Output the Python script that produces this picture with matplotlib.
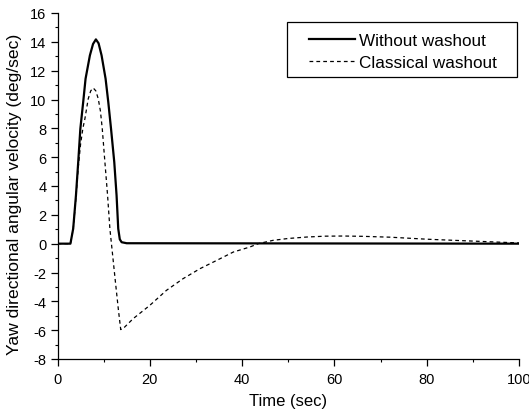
import matplotlib
matplotlib.use("Agg")
import matplotlib.pyplot as plt
from matplotlib.ticker import MultipleLocator
from matplotlib.patches import Rectangle

plt.rcParams['font.family'] = ['Liberation Sans', 'DejaVu Sans']
plt.rcParams['axes.unicode_minus'] = False

# Without washout (solid)
solid_t = [0, 2.8, 3.4, 4.0, 4.49, 4.95, 5.57, 6.08, 7.02, 7.7, 8.32, 8.9, 9.55,
           10.42, 11.0, 11.6, 12.3, 12.8, 13.16, 13.5, 13.9, 15.0, 100]
solid_v = [0, 0, 1.04, 3.35, 5.66, 7.97, 9.83, 11.44, 13.06, 13.85, 14.17, 13.9, 13.06,
           11.44, 9.83, 7.97, 5.66, 3.35, 1.04, 0.3, 0.1, 0.03, 0]

# Classical washout (dashed)
dash_t = [0, 2.8, 3.4, 4.0, 4.5, 5.0, 5.5, 5.94, 6.66, 7.2, 7.74, 8.3, 8.83, 9.3, 9.7,
          10.27, 10.85, 11.35, 11.72, 12.5, 13.2, 13.7, 14.5, 16.4, 20, 23.6, 27.2,
          30.9, 34.5, 38.1, 41.7, 43.5, 46.7, 50, 54, 58, 62, 66, 72, 80, 86, 91.5, 96, 100]
dash_v = [0, 0, 1.0, 3.2, 5.3, 6.9, 8.0, 8.67, 10.05, 10.6, 10.8, 10.6, 10.05, 9.2, 7.97,
          5.66, 3.35, 1.04, -0.1, -2.5, -4.6, -5.96, -5.8, -5.2, -4.28, -3.24, -2.43,
          -1.73, -1.16, -0.58, -0.23, 0.0, 0.23, 0.36, 0.46, 0.52, 0.53, 0.51, 0.45, 0.31,
          0.23, 0.16, 0.1, 0.05]

x_ticks = [0, 20, 40, 60, 80, 100]
y_ticks = [-8, -6, -4, -2, 0, 2, 4, 6, 8, 10, 12, 14, 16]

W, H = 529, 414
fig = plt.figure(figsize=(W/100, H/100), dpi=100)
ax = fig.add_axes([57.5/W, 1-360/H, (519-57.5)/W, (360-14)/H])

ax.plot(dash_t, dash_v, color='black', lw=0.9, ls=(0, (3, 2.5)), label='Classical washout', zorder=2)
ax.plot(solid_t, solid_v, color='black', lw=1.6, label='Without washout', zorder=3)

ax.set_xlim(0, 100)
ax.set_ylim(-8, 16)
ax.set_xticks(x_ticks)
ax.set_yticks(y_ticks)
ax.xaxis.set_minor_locator(MultipleLocator(10))
ax.yaxis.set_minor_locator(MultipleLocator(1))
ax.tick_params(which='major', direction='out', length=5, width=0.9, labelsize=10.5, pad=3)
ax.tick_params(axis='x', which='major', pad=4.5)
ax.tick_params(which='minor', direction='out', length=2.5, width=0.8)
ax.spines['top'].set_visible(False)
ax.spines['right'].set_visible(False)
for s in ('left', 'bottom'):
    ax.spines[s].set_linewidth(0.9)

ax.set_xlabel('Time (sec)', fontsize=12, labelpad=5)
ax.set_ylabel('Yaw directional angular velocity (deg/sec)', fontsize=12.6, labelpad=1)
ax.yaxis.set_label_coords(-0.078, 0.48)

# legend frame (drawn separately for its asymmetric padding)
fig.patches.append(Rectangle((287/W, 1-78/H), (517-287)/W, (78-23)/H,
                             transform=fig.transFigure, fill=False,
                             edgecolor='black', lw=0.9, zorder=5))

h, l = ax.get_legend_handles_labels()
leg = fig.legend(h[::-1], l[::-1], loc='upper left', bbox_to_anchor=(309/W, 1-34/H),
                 borderaxespad=0, borderpad=0, fontsize=12.3, frameon=False,
                 handlelength=2.7, handletextpad=0.2, labelspacing=0.4)

fig.savefig('out.png', dpi=100)
